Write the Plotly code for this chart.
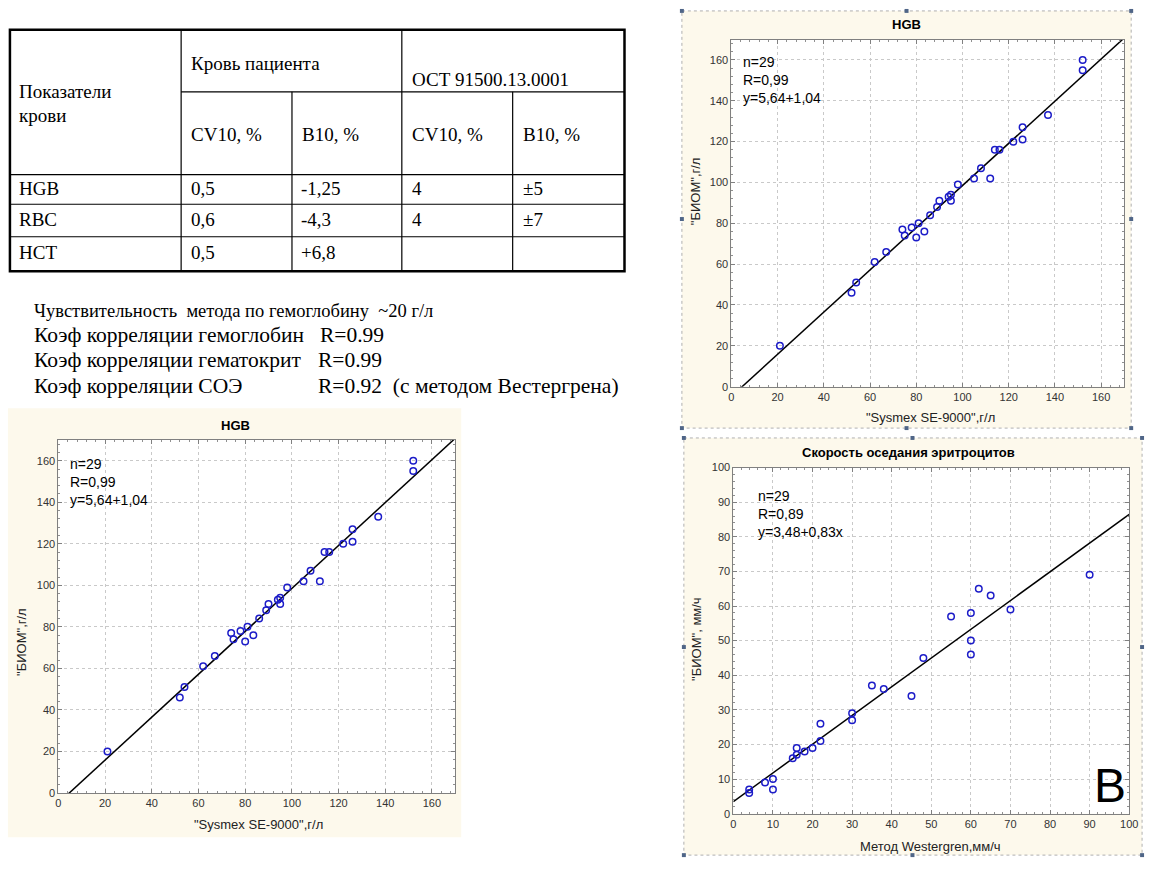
import plotly.graph_objects as go

W, H = 1158, 870

# ---------------- data ----------------
table_rowlabel_header = ["Показатели", "крови"]
table_group_headers = ["Кровь пациента", "ОСТ 91500.13.0001"]
table_sub_headers = ["CV10, %", "B10, %", "CV10, %", "B10, %"]
table_row_names = ["HGB", "RBC", "HCT"]
patient_cv10 = ["0,5", "0,6", "0,5"]
patient_b10 = ["-1,25", "-4,3", "+6,8"]
ost_cv10 = ["4", "4", ""]
ost_b10 = ["±5", "±7", ""]

note_line = "Чувствительность  метода по гемоглобину  ~20 г/л"
corr_labels = ["Коэф корреляции гемоглобин", "Коэф корреляции гематокрит", "Коэф корреляции СОЭ"]
corr_values = ["R=0.99", "R=0.99", "R=0.92  (с методом Вестергрена)"]

hgb_sysmex = [21, 52, 54, 62, 67, 74, 75, 78, 80, 81, 83.5, 86, 89, 90, 94, 95, 95, 98,
              105, 108, 112, 114, 116, 122, 126, 126, 137, 152, 152]
hgb_biom = [20, 46, 51, 61, 66, 77, 74, 78, 73, 80, 76, 84, 88, 91, 93, 94, 91, 99,
            102, 107, 102, 116, 116, 120, 127, 121, 133, 160, 155]
hgb_stats = ["n=29", "R=0,99", "y=5,64+1,04"]
hgb_fit_intercept, hgb_fit_slope = -4.8, 1.033

esr_westergren = [4, 4, 8, 10, 10, 15, 16, 16, 18, 20, 22, 22, 30, 30, 35, 38, 45, 48,
                  55, 60, 60, 60, 62, 65, 70, 90]
esr_biom = [7, 6, 9, 10, 7, 16, 17, 19, 18, 19, 21, 26, 29, 27, 37, 36, 34, 45,
            57, 58, 50, 46, 65, 63, 59, 69]
esr_stats = ["n=29", "R=0,89", "y=3,48+0,83x"]
esr_fit_intercept, esr_fit_slope = 3.48, 0.83

hgb_title = "HGB"
hgb_xtitle = '"Sysmex SE-9000",г/л'
hgb_ytitle = '"БИОМ",г/л'
esr_title = "Скорость оседания эритроцитов"
esr_xtitle = "Метод Westergren,мм/ч"
esr_ytitle = '"БИОМ", мм/ч'
panel_letter = "B"

# ---------------- helpers ----------------
def px(x):
    return x / W


def py(y):
    return 1 - y / H


SERIF = "Liberation Serif, Times New Roman, serif"
SANS = "Arial, Liberation Sans, sans-serif"
CREAM = "#fdf9ec"

shapes = []
annotations = []


def text(x, y, s, size, family=SANS, xanchor="left", yanchor="middle", color="black", bold=False, angle=0):
    if bold:
        s = "<b>" + s + "</b>"
    annotations.append(dict(x=px(x), y=py(y), xref="paper", yref="paper", text=s, showarrow=False,
                            xanchor=xanchor, yanchor=yanchor, align="left", textangle=angle,
                            font=dict(family=family, size=size, color=color)))


def line(x0, y0, x1, y1, width=1, color="black", dash="solid"):
    shapes.append(dict(type="line", xref="paper", yref="paper", x0=px(x0), y0=py(y0), x1=px(x1), y1=py(y1),
                       line=dict(color=color, width=width, dash=dash), layer="above"))


def rect(x0, y0, x1, y1, fill, linecolor=None, width=0, dash="solid", layer="below"):
    shapes.append(dict(type="rect", xref="paper", yref="paper", x0=px(x0), y0=py(y0), x1=px(x1), y1=py(y1),
                       fillcolor=fill, line=dict(color=linecolor or "rgba(0,0,0,0)", width=width, dash=dash),
                       layer=layer))


# ---------------- table ----------------
TL, TR, TT, TB = 7, 628, 24, 269
cols = [TL, 180, 292, 403, 515, TR]
rows = [TT, 87, 171, 201, 234, TB]
rect(TL, TT, TR, TB, "rgba(0,0,0,0)", "black", 2.5, layer="above")
for c in cols[1:-1]:
    top = TT if c in (180, 403) else 87
    line(c, top, c, TB, 1.2)
line(180, 87, TR, 87, 1.2)
for r in rows[2:-1]:
    line(TL, r, TR, r, 1.2)

TF = 19
text(14, 87, table_rowlabel_header[0], TF, SERIF)
text(14, 111, table_rowlabel_header[1], TF, SERIF)
text(188, 58, table_group_headers[0], TF, SERIF)
text(411, 75, table_group_headers[1], TF, SERIF)
for i, s in enumerate(table_sub_headers):
    text(cols[i + 1] + 8, 130, s, TF, SERIF)
row_y = [185, 216, 250]
for i, name in enumerate(table_row_names):
    text(14, row_y[i], name, TF, SERIF)
    text(188, row_y[i], patient_cv10[i], TF, SERIF)
    text(299, row_y[i], patient_b10[i], TF, SERIF)
    text(411, row_y[i], ost_cv10[i], TF, SERIF)
    text(523, row_y[i], ost_b10[i], TF, SERIF)

# ---------------- notes ----------------
text(29, 309, note_line, 18.5, SERIF)
corr_y = [334, 359, 385]
corr_vx = [318, 316, 316]
for i in range(3):
    text(29, corr_y[i], corr_labels[i], 21.5, SERIF)
    text(corr_vx[i], corr_y[i], corr_values[i], 21.5, SERIF)

# ---------------- panels ----------------
panels = [
    dict(panel=(5, 408, 463, 843), plot=(56, 440, 457, 798), rng=(0, 170), dtick=20, minor=4,
         x=hgb_sysmex, y=hgb_biom, fit=(hgb_fit_intercept, hgb_fit_slope), stats=hgb_stats,
         title=hgb_title, title_xy=(235, 425), xt=hgb_xtitle, xt_xy=(258, 830), yt=hgb_ytitle, yt_xy=(18, 645),
         stats_xy=(66, 454)),
    dict(panel=(686, 5, 1140, 428), plot=(736, 34, 1133, 386), rng=(0, 170), dtick=20, minor=4,
         x=hgb_sysmex, y=hgb_biom, fit=(hgb_fit_intercept, hgb_fit_slope), stats=hgb_stats,
         title=hgb_title, title_xy=(913, 19), xt=hgb_xtitle, xt_xy=(937, 417), yt=hgb_ytitle, yt_xy=(700, 188),
         stats_xy=(746, 47)),
    dict(panel=(688, 438, 1151, 861), plot=(738, 468, 1138, 819), rng=(0, 100), dtick=10, minor=2,
         x=esr_westergren, y=esr_biom, fit=(esr_fit_intercept, esr_fit_slope), stats=esr_stats,
         title=esr_title, title_xy=(915, 453), xt=esr_xtitle, xt_xy=(937, 852), yt=esr_ytitle, yt_xy=(700, 642),
         stats_xy=(761, 487)),
]

fig = go.Figure()
layout_axes = {}
for k, p in enumerate(panels):
    n = "" if k == 0 else str(k + 1)
    x0, y0, x1, y1 = p["panel"]
    rect(x0, y0, x1, y1, CREAM)
    a0, b0, a1, b1 = p["plot"]
    rect(a0, b0, a1, b1, "white")
    common = dict(range=list(p["rng"]), dtick=p["dtick"], tick0=0, showgrid=True, gridcolor="#c9c9c9",
                  griddash="dot", gridwidth=1, showline=True, linecolor="#808080", linewidth=1,
                  mirror="ticks", ticks="inside", ticklen=4, tickcolor="#808080",
                  minor=dict(ticks="inside", ticklen=2, dtick=p["minor"], tickcolor="#909090", showgrid=False),
                  tickfont=dict(family=SANS, size=11, color="#333333"), zeroline=False, fixedrange=True)
    layout_axes["xaxis" + n] = dict(common, domain=[px(a0), px(a1)], anchor="y" + n)
    layout_axes["yaxis" + n] = dict(common, domain=[py(b1), py(b0)], anchor="x" + n)
    lo, hi = p["rng"]
    ic, sl = p["fit"]
    fig.add_trace(go.Scatter(x=[lo, hi], y=[ic + sl * lo, ic + sl * hi], mode="lines",
                             line=dict(color="black", width=1.5), xaxis="x" + n, yaxis="y" + n,
                             showlegend=False, hoverinfo="skip"))
    fig.add_trace(go.Scatter(x=p["x"], y=p["y"], mode="markers",
                             marker=dict(symbol="circle-open", size=6.5, color="#1c1cc8", line=dict(width=1.5)),
                             xaxis="x" + n, yaxis="y" + n, showlegend=False))
    text(p["title_xy"][0], p["title_xy"][1], p["title"], 13, xanchor="center", bold=True)
    text(p["xt_xy"][0], p["xt_xy"][1], p["xt"], 13, xanchor="center", color="#222222")
    text(p["yt_xy"][0], p["yt_xy"][1], p["yt"], 13, xanchor="center", color="#222222", angle=-90)
    text(p["stats_xy"][0], p["stats_xy"][1], "<br>".join(p["stats"]), 14, yanchor="top")

text(1119, 790, panel_letter, 48, xanchor="center")

# selection borders and handles
rect(686, 5, 1140, 428, "rgba(0,0,0,0)", "#b0b0b0", 1, "dot", layer="above")
rect(688, 438, 1151, 861, "rgba(0,0,0,0)", "#b0b0b0", 1, "dot", layer="above")
handles = [(686, 5), (913, 5), (1140, 5), (686, 216), (1140, 216), (686, 428), (913, 428), (1140, 428),
           (688, 438), (919, 438), (1151, 438), (688, 650), (1151, 650), (688, 861), (919, 861), (1151, 861)]
for hx, hy in handles:
    rect(hx - 2, hy - 2, hx + 2, hy + 2, "#4f6587", layer="above")

fig.update_layout(width=W, height=H, margin=dict(l=0, r=0, t=0, b=0), paper_bgcolor="white",
                  plot_bgcolor="rgba(0,0,0,0)", shapes=shapes, annotations=annotations, **layout_axes)

fig.write_html("out.html", config={"displayModeBar": False},
               post_script="document.body.style.margin='0';document.body.style.overflow='hidden';")
